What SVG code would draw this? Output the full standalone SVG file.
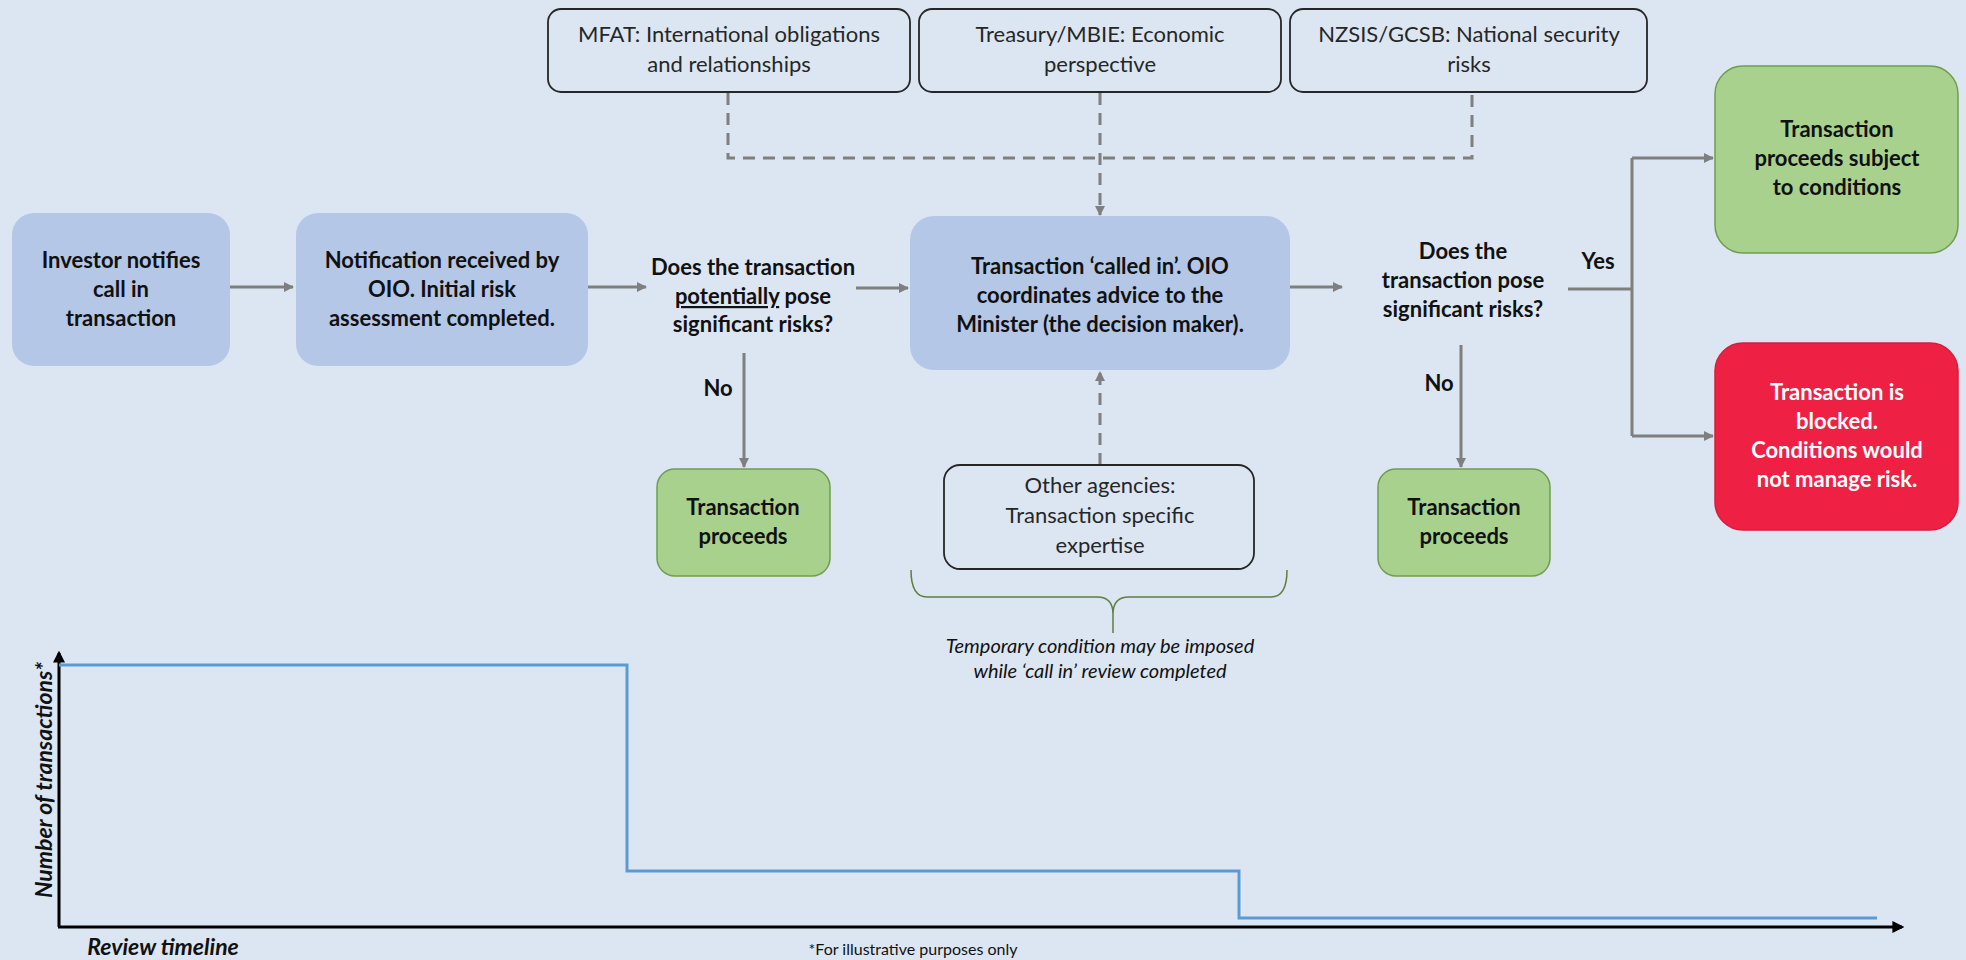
<svg xmlns="http://www.w3.org/2000/svg" width="1966" height="960" viewBox="0 0 1966 960">
  <defs>
    <marker id="arrGray" viewBox="0 0 10 10" refX="9" refY="5" markerWidth="10" markerHeight="10" markerUnits="userSpaceOnUse" orient="auto">
      <path d="M0,0 L10,5 L0,10 Z" fill="#7f7f7f"/>
    </marker>
    <marker id="arrBlack" viewBox="0 0 10 10" refX="8" refY="5" markerWidth="12" markerHeight="12" markerUnits="userSpaceOnUse" orient="auto">
      <path d="M0,0 L10,5 L0,10 Z" fill="#000"/>
    </marker>
    <style>
      .bg { fill: #dce6f2; }
      .blue { fill: #b4c7e7; }
      .green { fill: #a9d18e; stroke: #6e9e4c; stroke-width: 1.5; }
      .red { fill: #ee2145; stroke: #d81c3c; stroke-width: 1.5; }
      .agency { fill: #dce6f2; stroke: #262626; stroke-width: 1.8; }
      .t { font-family: Lato, "Liberation Sans", sans-serif; text-anchor: middle; fill: #111; }
      .b { font-weight: bold; font-size: 22px; }
      .r { font-size: 22px; fill: #262626; }
      .w { fill: #ffffff; }
      .flow { stroke: #7f7f7f; stroke-width: 3; fill: none; }
      .dash { stroke: #7f7f7f; stroke-width: 3; fill: none; stroke-dasharray: 12 8; }
      .axis { stroke: #000; stroke-width: 3; fill: none; }
      .step { stroke: #5b9bd5; stroke-width: 3; fill: none; }
    </style>
  </defs>

  <rect class="bg" x="0" y="0" width="1966" height="960"/>

  <!-- connectors -->
  <g id="connectors">
    <line class="flow" x1="230" y1="287" x2="293" y2="287" marker-end="url(#arrGray)"/>
    <line class="flow" x1="588" y1="287" x2="646" y2="287" marker-end="url(#arrGray)"/>
    <line class="flow" x1="856" y1="288" x2="908" y2="288" marker-end="url(#arrGray)"/>
    <line class="flow" x1="1290" y1="287" x2="1342" y2="287" marker-end="url(#arrGray)"/>
    <line class="flow" x1="744" y1="353" x2="744" y2="467" marker-end="url(#arrGray)"/>
    <line class="flow" x1="1461" y1="345" x2="1461" y2="467" marker-end="url(#arrGray)"/>
    <path class="flow" d="M1568,289 H1632 M1632,158 V436" />
    <line class="flow" x1="1632" y1="158" x2="1713" y2="158" marker-end="url(#arrGray)"/>
    <line class="flow" x1="1632" y1="436" x2="1713" y2="436" marker-end="url(#arrGray)"/>
    <path class="dash" d="M728,93 V158 H1472 V93"/>
    <line class="dash" x1="1100" y1="93" x2="1100" y2="215" marker-end="url(#arrGray)"/>
    <line class="dash" x1="1100" y1="465" x2="1100" y2="372" marker-end="url(#arrGray)"/>
  </g>

  <!-- flow nodes -->
  <g id="investor">
    <rect class="blue" x="12" y="213" width="218" height="153" rx="22"/>
    <text class="t b"><tspan x="121" y="268">Investor notifies</tspan><tspan x="121" y="297">call in</tspan><tspan x="121" y="326">transaction</tspan></text>
  </g>
  <g id="notification">
    <rect class="blue" x="296" y="213" width="292" height="153" rx="22"/>
    <text class="t b"><tspan x="442" y="268">Notification received by</tspan><tspan x="442" y="297">OIO. Initial risk</tspan><tspan x="442" y="326">assessment completed.</tspan></text>
  </g>
  <g id="decision-potential">
    <text class="t b"><tspan x="753" y="275">Does the transaction</tspan><tspan x="753" y="304"><tspan text-decoration="underline">potentially</tspan> pose</tspan><tspan x="753" y="332">significant risks?</tspan></text>
  </g>
  <g id="no-1">
    <text class="t b" x="718" y="396">No</text>
  </g>
  <g id="proceeds-1">
    <rect class="green" x="657" y="469" width="173" height="107" rx="18"/>
    <text class="t b"><tspan x="743" y="515">Transaction</tspan><tspan x="743" y="544">proceeds</tspan></text>
  </g>
  <g id="called-in">
    <rect class="blue" x="910" y="216" width="380" height="154" rx="24"/>
    <text class="t b"><tspan x="1100" y="274">Transaction ‘called in’. OIO</tspan><tspan x="1100" y="303">coordinates advice to the</tspan><tspan x="1100" y="332">Minister (the decision maker).</tspan></text>
  </g>
  <g id="mfat">
    <rect class="agency" x="548" y="9" width="362" height="83" rx="13"/>
    <text class="t r"><tspan x="729" y="42">MFAT: International obligations</tspan><tspan x="729" y="72">and relationships</tspan></text>
  </g>
  <g id="treasury">
    <rect class="agency" x="919" y="9" width="362" height="83" rx="13"/>
    <text class="t r"><tspan x="1100" y="42">Treasury/MBIE: Economic</tspan><tspan x="1100" y="72">perspective</tspan></text>
  </g>
  <g id="nzsis">
    <rect class="agency" x="1290" y="9" width="357" height="83" rx="13"/>
    <text class="t r"><tspan x="1469" y="42">NZSIS/GCSB: National security</tspan><tspan x="1469" y="72">risks</tspan></text>
  </g>
  <g id="other-agencies">
    <rect class="agency" x="944" y="465" width="310" height="104" rx="16"/>
    <text class="t r"><tspan x="1100" y="493">Other agencies:</tspan><tspan x="1100" y="523">Transaction specific</tspan><tspan x="1100" y="553">expertise</tspan></text>
  </g>
  <g id="temporary-condition">
    <path d="M911,570 Q911,597 927,597 L1097,597 Q1113,597 1113,614 L1113,633 M1113,614 Q1113,597 1129,597 L1271,597 Q1287,597 1287,570" fill="none" stroke="#5f7f3f" stroke-width="1.5"/>
    <text class="t" font-style="italic" font-size="20" fill="#111"><tspan x="1100" y="653">Temporary condition may be imposed</tspan><tspan x="1100" y="678">while ‘call in’ review completed</tspan></text>
  </g>
  <g id="decision-significant">
    <text class="t b"><tspan x="1463" y="259">Does the</tspan><tspan x="1463" y="288">transaction pose</tspan><tspan x="1463" y="317">significant risks?</tspan></text>
  </g>
  <g id="yes">
    <text class="t b" x="1598" y="269">Yes</text>
  </g>
  <g id="no-2">
    <text class="t b" x="1439" y="391">No</text>
  </g>
  <g id="proceeds-2">
    <rect class="green" x="1378" y="469" width="172" height="107" rx="18"/>
    <text class="t b"><tspan x="1464" y="515">Transaction</tspan><tspan x="1464" y="544">proceeds</tspan></text>
  </g>
  <g id="proceeds-conditions">
    <rect class="green" x="1715" y="66" width="243" height="187" rx="28"/>
    <text class="t b"><tspan x="1837" y="137">Transaction</tspan><tspan x="1837" y="166">proceeds subject</tspan><tspan x="1837" y="195">to conditions</tspan></text>
  </g>
  <g id="blocked">
    <rect class="red" x="1715" y="343" width="243" height="187" rx="28"/>
    <text class="t b w"><tspan x="1837" y="400">Transaction is</tspan><tspan x="1837" y="429">blocked.</tspan><tspan x="1837" y="458">Conditions would</tspan><tspan x="1837" y="487">not manage risk.</tspan></text>
  </g>

  <!-- review timeline chart -->
  <g id="chart">
    <line class="axis" x1="59" y1="927" x2="59" y2="653" marker-end="url(#arrBlack)"/>
    <line class="axis" x1="58" y1="927" x2="1902" y2="927" marker-end="url(#arrBlack)"/>
    <path class="step" d="M59,665 H627 V871 H1239 V918 H1877"/>
    <text class="t" font-weight="bold" font-style="italic" font-size="23" transform="translate(52,780) rotate(-90)" x="0" y="0">Number of transactions*</text>
    <text class="t" font-weight="bold" font-style="italic" font-size="23" x="163" y="955">Review timeline</text>
    <text class="t" font-size="16" x="913" y="955">*For illustrative purposes only</text>
  </g>
</svg>
